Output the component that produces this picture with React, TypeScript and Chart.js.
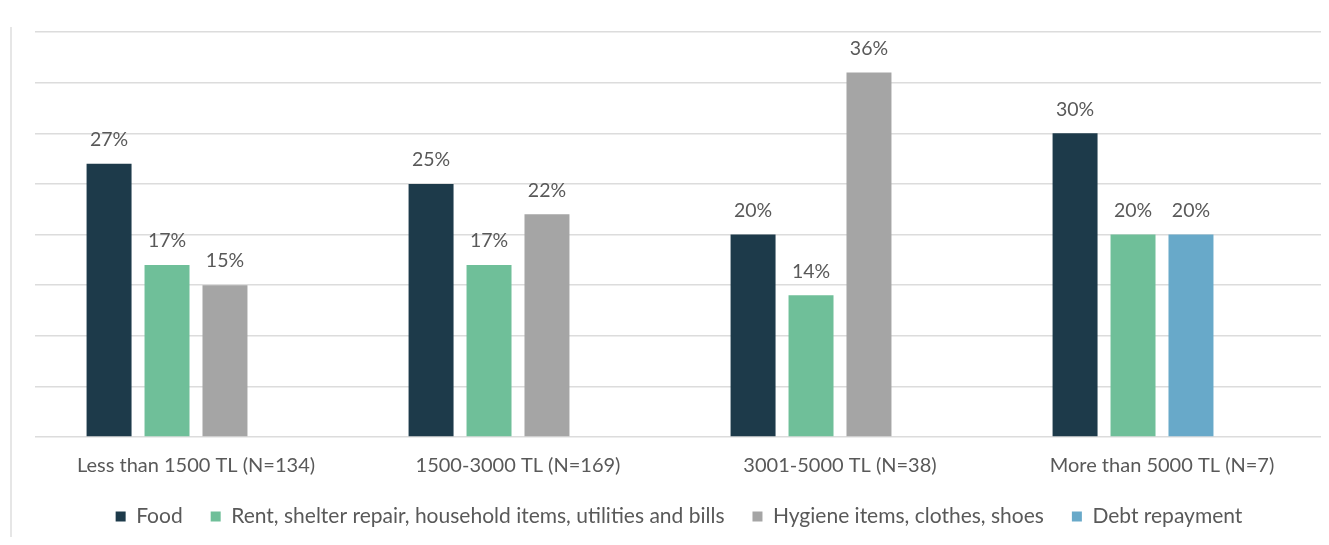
import React, { useEffect, useRef } from "react";
import { Chart, registerables } from "chart.js";

Chart.register(...registerables);

const categories = [
  "Less than 1500 TL (N=134)",
  "1500-3000 TL (N=169)",
  "3001-5000 TL (N=38)",
  "More than 5000 TL (N=7)",
];
const foodValues = [27, 25, 20, 30];
const rentValues = [17, 17, 14, 20];
const hygieneValues = [15, 22, 36, null];
const debtValues = [null, null, null, 20];
const emptySlot = [null, null, null, null];
const yTicks = [0, 5, 10, 15, 20, 25, 30, 35, 40];

const FONT = "Lato, 'Open Sans', sans-serif";
const TEXT = "#595959";

const valueLabels = {
  id: "valueLabels",
  afterDatasetsDraw(chart: any) {
    const ctx = chart.ctx;
    ctx.save();
    ctx.font = `19.5px ${FONT}`;
    ctx.fillStyle = TEXT;
    ctx.textAlign = "center";
    ctx.textBaseline = "middle";
    chart.data.datasets.forEach((ds: any, i: number) => {
      const meta = chart.getDatasetMeta(i);
      meta.data.forEach((el: any, j: number) => {
        const v = ds.data[j];
        if (v === null || v === undefined) return;
        ctx.fillText(`${v}%`, el.x, el.y - 24);
      });
    });
    ctx.restore();
  },
};

export default function App() {
  const ref = useRef<HTMLCanvasElement>(null);
  useEffect(() => {
    if (!ref.current) return;
    const chart = new Chart(ref.current, {
      type: "bar",
      data: {
        labels: categories,
        datasets: [
          { label: "Food", data: foodValues, backgroundColor: "#1d3a4a", stack: "a" },
          {
            label: "Rent, shelter repair, household items, utilities and bills",
            data: rentValues,
            backgroundColor: "#6fbf99",
            stack: "b",
          },
          { label: "Hygiene items, clothes, shoes", data: hygieneValues, backgroundColor: "#a5a5a5", stack: "c" },
          { label: "Debt repayment", data: debtValues, backgroundColor: "#68a9c9", stack: "c" },
          { label: "", data: emptySlot, backgroundColor: "rgba(0,0,0,0)", stack: "d" },
        ],
      } as any,
      options: {
        animation: false,
        responsive: false,
        layout: { padding: { left: 27, right: 3, top: 24, bottom: 0 } },
        datasets: { bar: { categoryPercentage: 0.72, barPercentage: 0.776 } } as any,
        scales: {
          x: {
            grid: { display: false, drawTicks: false },
            border: { display: false },
            ticks: { color: TEXT, font: { family: FONT, size: 20, lineHeight: 1 }, padding: 19, maxRotation: 0 },
            afterFit: (scale: any) => {
              scale.height = 41;
            },
          },
          y: {
            min: 0,
            max: 40,
            afterBuildTicks: (scale: any) => {
              scale.ticks = yTicks.map((v) => ({ value: v }));
            },
            ticks: { display: false },
            border: { display: false },
            grid: { color: "#dcdcdc", lineWidth: 1.5, drawTicks: false },
          },
        },
        plugins: {
          legend: {
            position: "bottom",
            labels: {
              boxWidth: 10,
              boxHeight: 10,
              padding: 28,
              color: TEXT,
              font: { family: FONT, size: 21 },
              filter: (item: any) => item.text !== "",
            },
          },
          tooltip: { enabled: false },
        },
      } as any,
      plugins: [valueLabels],
    });
    return () => chart.destroy();
  }, []);
  return (
    <div style={{ position: "relative", width: 1318, height: 529 }}>
      <div
        style={{ position: "absolute", left: 2, top: 19, width: 2, height: 518, background: "#e6e6e6" }}
      />
      <canvas ref={ref} width={1318} height={529} style={{ display: "block" }} />
    </div>
  );
}
